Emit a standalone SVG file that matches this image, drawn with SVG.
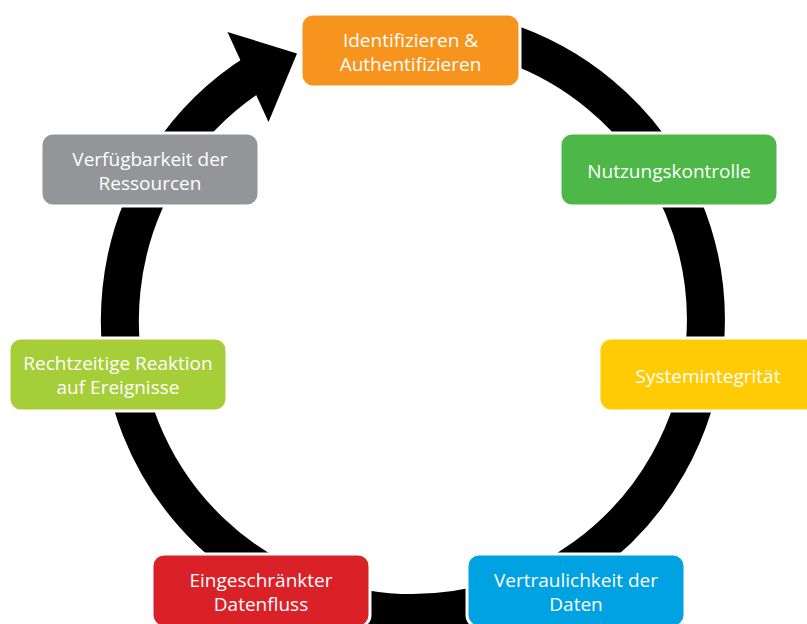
<svg xmlns="http://www.w3.org/2000/svg" width="807" height="624" viewBox="0 0 807 624">
  <style>
    .box { stroke: #ffffff; stroke-width: 3; }
    .lbl { font-family: "Open Sans", "Noto Sans", sans-serif; font-size: 19px; fill: #ffffff; text-anchor: middle; }
    .ring { fill: none; stroke: #000000; stroke-width: 38; }
  </style>
  <rect x="0" y="0" width="807" height="624" fill="#ffffff"/>
  <g id="connectors">
    <path class="ring" d="M 489.8 37.3 A 293 293 0 1 1 257.7 71.5"/>
    <polygon points="227.5,32 297,53.5 268.5,122" fill="#000000"/>
  </g>
  <g id="node-identifizieren">
    <rect class="box" x="301" y="14" width="219" height="73" rx="12" fill="#F7941D"/>
    <text class="lbl" x="410.5" y="46.7">Identifizieren &amp;</text>
    <text class="lbl" x="410.5" y="71">Authentifizieren</text>
  </g>
  <g id="node-nutzungskontrolle">
    <rect class="box" x="560" y="133" width="218" height="73" rx="12" fill="#4DB848"/>
    <text class="lbl" x="669" y="178.3">Nutzungskontrolle</text>
  </g>
  <g id="node-systemintegritaet">
    <rect class="box" x="599" y="338" width="218" height="73" rx="12" fill="#FFCB05"/>
    <text class="lbl" x="708" y="383.3">Systemintegrität</text>
  </g>
  <g id="node-vertraulichkeit">
    <rect class="box" x="467" y="554" width="218" height="73" rx="12" fill="#00A2E2"/>
    <text class="lbl" x="576" y="586.5">Vertraulichkeit der</text>
    <text class="lbl" x="576" y="611">Daten</text>
  </g>
  <g id="node-datenfluss">
    <rect class="box" x="152" y="554" width="218" height="73" rx="12" fill="#DB2128"/>
    <text class="lbl" x="261" y="586.5">Eingeschränkter</text>
    <text class="lbl" x="261" y="611">Datenfluss</text>
  </g>
  <g id="node-reaktion">
    <rect class="box" x="9" y="338" width="218" height="73" rx="12" fill="#A6CE39"/>
    <text class="lbl" x="118" y="370">Rechtzeitige Reaktion</text>
    <text class="lbl" x="118" y="394">auf Ereignisse</text>
  </g>
  <g id="node-verfuegbarkeit">
    <rect class="box" x="41" y="133" width="218" height="73" rx="12" fill="#939598"/>
    <text class="lbl" x="150" y="165.7">Verfügbarkeit der</text>
    <text class="lbl" x="150" y="190">Ressourcen</text>
  </g>
</svg>
